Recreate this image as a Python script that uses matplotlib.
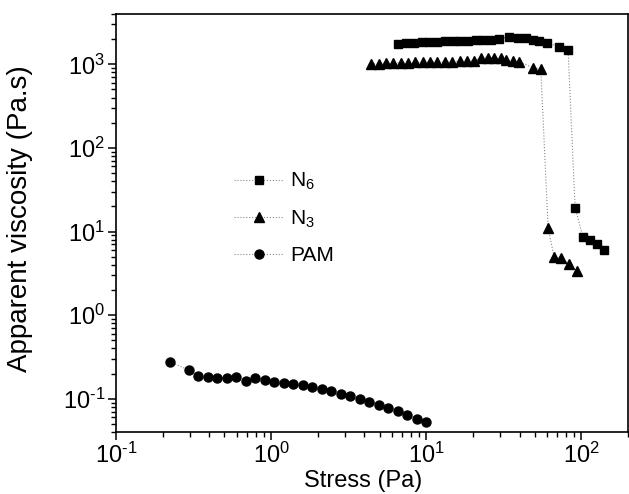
import matplotlib
matplotlib.use("Agg")
import matplotlib.pyplot as plt
from matplotlib.ticker import FuncFormatter
import numpy as np

plt.rcParams['font.family'] = ['Liberation Sans', 'DejaVu Sans']
plt.rcParams['mathtext.fontset'] = 'custom'
plt.rcParams['mathtext.rm'] = 'Liberation Sans'
plt.rcParams['mathtext.it'] = 'Liberation Sans:italic'
plt.rcParams['mathtext.bf'] = 'Liberation Sans:bold'
plt.rcParams['axes.unicode_minus'] = False

# N6 sample
n6_stress = [6.61, 7.41, 8.32, 9.33, 10.5, 11.7, 13.2, 14.8, 16.6, 18.6, 20.9,
             23.4, 26.3, 29.5, 34.4, 38.9, 44.0, 49.0, 53.6, 60.0, 71.9, 82.2,
             91.2, 102.6, 113.8, 126.8, 140.3]
n6_visc = [1760, 1790, 1810, 1840, 1860, 1870, 1880, 1890, 1900, 1920, 1930,
           1940, 1960, 1990, 2150, 2060, 2040, 1970, 1900, 1820, 1620, 1480,
           19.3, 8.6, 7.9, 7.0, 5.96]

# N3 sample
n3_stress = [4.41, 4.93, 5.50, 6.14, 6.84, 7.64, 8.51, 9.51, 10.6, 11.8, 13.2,
             14.7, 16.4, 18.3, 20.4, 22.6, 24.9, 27.5, 30.4, 32.7, 36.1, 39.9,
             48.5, 54.8, 61.1, 66.8, 74.4, 83.4, 93.8]
n3_visc = [1005, 1020, 1030, 1040, 1045, 1050, 1055, 1060, 1065, 1070, 1075,
           1080, 1085, 1091, 1110, 1207, 1207, 1186, 1175, 1122, 1101, 1071,
           916, 876, 11.1, 4.95, 4.77, 4.05, 3.37]

# PAM
pam_stress = [0.222, 0.294, 0.338, 0.390, 0.449, 0.516, 0.594, 0.685, 0.789,
              0.908, 1.045, 1.205, 1.387, 1.596, 1.84, 2.12, 2.44, 2.81, 3.24,
              3.72, 4.29, 4.94, 5.69, 6.55, 7.54, 8.69, 10.0]
pam_visc = [0.276, 0.221, 0.186, 0.181, 0.176, 0.176, 0.181, 0.162, 0.176,
            0.168, 0.158, 0.153, 0.151, 0.145, 0.137, 0.129, 0.123, 0.115,
            0.108, 0.100, 0.0925, 0.085, 0.0776, 0.0708, 0.0646, 0.0578, 0.0523]

fig = plt.figure(figsize=(6.29, 4.94), dpi=100)
ax = fig.add_axes([116/629, 62/494, 512/629, 418/494])

line_kw = dict(color='#888888', ls=':', lw=0.8, mfc='black', mec='black')
ax.plot(n6_stress, n6_visc, marker='s', ms=6, label='N$_6$', **line_kw)
ax.plot(n3_stress, n3_visc, marker='^', ms=7.5, label='N$_3$', **line_kw)
ax.plot(pam_stress, pam_visc, marker='o', ms=6.5, label='PAM', **line_kw)

ax.set_xscale('log')
ax.set_yscale('log')
ax.set_xlim(0.1, 200)
ax.set_ylim(0.04, 4000)


def pow10(v, pos):
    e = int(round(np.log10(v)))
    if e < 0:
        return r'$\mathdefault{10^{\text{-%d}}}$' % (-e)
    return r'$\mathdefault{10^{%d}}$' % e


ax.xaxis.set_major_formatter(FuncFormatter(pow10))
ax.yaxis.set_major_formatter(FuncFormatter(pow10))

ax.set_xlabel('Stress (Pa)', fontsize=17)
ax.set_ylabel('Apparent viscosity (Pa.s)', fontsize=20)
ax.xaxis.set_label_coords(0.482, -0.092)
ax.yaxis.set_label_coords(-0.162, 0.51)

for s in ax.spines.values():
    s.set_linewidth(1.2)
ax.tick_params(which='major', direction='out', length=6, width=1.1, labelsize=17, pad=2)
ax.tick_params(which='minor', direction='out', length=3.5, width=1.0)

ax.legend(loc='upper left', bbox_to_anchor=(234/629, 1 - 171/494),
          bbox_transform=fig.transFigure, frameon=False,
          fontsize=15, handlelength=2.4, handletextpad=0.3, labelspacing=0.78,
          borderpad=0, borderaxespad=0)

fig.savefig('out.png', dpi=100)
